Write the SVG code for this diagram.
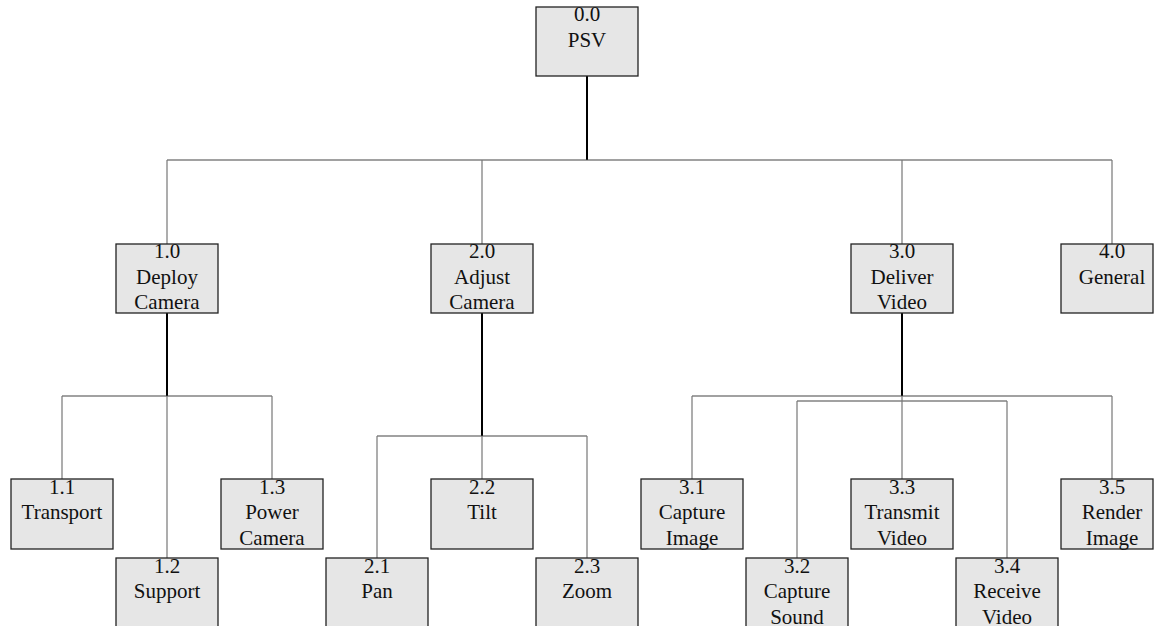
<svg xmlns="http://www.w3.org/2000/svg" width="1154" height="626" viewBox="0 0 1154 626">
<style>
.box{fill:#e6e6e6;stroke:#222;stroke-width:1.3}
.lbl{font-family:'Liberation Serif','DejaVu Serif',serif;font-size:21px;fill:#111;text-anchor:middle}
.stem{stroke:#000;stroke-width:2;fill:none}
.bus{stroke:#444;stroke-width:1.2;fill:none}
.drop{stroke:#777;stroke-width:1.2;fill:none}
</style>
<rect width="1154" height="626" fill="#fff"/>
<g id="connectors">
<path class="stem" d="M587 76V160"/>
<path class="bus" d="M167 160H1112"/>
<path class="drop" d="M167 160V244M482 160V244M902 160V244M1112 160V244"/>
<path class="stem" d="M167 313V396"/>
<path class="bus" d="M62 396H272"/>
<path class="drop" d="M62 396V479M167 396V558M272 396V479"/>
<path class="stem" d="M482 313V436"/>
<path class="bus" d="M377 436H587"/>
<path class="drop" d="M377 436V558M482 436V479M587 436V558"/>
<path class="stem" d="M902 313V396"/>
<path class="bus" d="M692 396H1112M797 401H1007"/>
<path class="drop" d="M692 396V479M902 396V479M1112 396V479M797 401V558M1007 401V558"/>
</g>
<g id="n0_0"><rect class="box" x="536" y="7" width="102" height="69"/><text class="lbl" font-family="Liberation Serif, serif"><tspan x="587" y="21">0.0</tspan><tspan x="587" y="47">PSV</tspan></text></g>
<g id="n1_0"><rect class="box" x="116" y="244" width="102" height="69"/><text class="lbl" font-family="Liberation Serif, serif"><tspan x="167" y="258">1.0</tspan><tspan x="167" y="284">Deploy</tspan><tspan x="167" y="309">Camera</tspan></text></g>
<g id="n2_0"><rect class="box" x="431" y="244" width="102" height="69"/><text class="lbl" font-family="Liberation Serif, serif"><tspan x="482" y="258">2.0</tspan><tspan x="482" y="284">Adjust</tspan><tspan x="482" y="309">Camera</tspan></text></g>
<g id="n3_0"><rect class="box" x="851" y="244" width="102" height="69"/><text class="lbl" font-family="Liberation Serif, serif"><tspan x="902" y="258">3.0</tspan><tspan x="902" y="284">Deliver</tspan><tspan x="902" y="309">Video</tspan></text></g>
<g id="n4_0"><rect class="box" x="1061" y="244" width="92" height="69"/><text class="lbl" font-family="Liberation Serif, serif"><tspan x="1112" y="258">4.0</tspan><tspan x="1112" y="284">General</tspan></text></g>
<g id="n1_1"><rect class="box" x="11" y="479" width="102" height="70"/><text class="lbl" font-family="Liberation Serif, serif"><tspan x="62" y="494">1.1</tspan><tspan x="62" y="519">Transport</tspan></text></g>
<g id="n1_2"><rect class="box" x="116" y="558" width="102" height="70"/><text class="lbl" font-family="Liberation Serif, serif"><tspan x="167" y="573">1.2</tspan><tspan x="167" y="598">Support</tspan></text></g>
<g id="n1_3"><rect class="box" x="221" y="479" width="102" height="70"/><text class="lbl" font-family="Liberation Serif, serif"><tspan x="272" y="494">1.3</tspan><tspan x="272" y="519">Power</tspan><tspan x="272" y="545">Camera</tspan></text></g>
<g id="n2_1"><rect class="box" x="326" y="558" width="102" height="70"/><text class="lbl" font-family="Liberation Serif, serif"><tspan x="377" y="573">2.1</tspan><tspan x="377" y="598">Pan</tspan></text></g>
<g id="n2_2"><rect class="box" x="431" y="479" width="102" height="70"/><text class="lbl" font-family="Liberation Serif, serif"><tspan x="482" y="494">2.2</tspan><tspan x="482" y="519">Tilt</tspan></text></g>
<g id="n2_3"><rect class="box" x="536" y="558" width="102" height="70"/><text class="lbl" font-family="Liberation Serif, serif"><tspan x="587" y="573">2.3</tspan><tspan x="587" y="598">Zoom</tspan></text></g>
<g id="n3_1"><rect class="box" x="641" y="479" width="102" height="70"/><text class="lbl" font-family="Liberation Serif, serif"><tspan x="692" y="494">3.1</tspan><tspan x="692" y="519">Capture</tspan><tspan x="692" y="545">Image</tspan></text></g>
<g id="n3_2"><rect class="box" x="746" y="558" width="102" height="70"/><text class="lbl" font-family="Liberation Serif, serif"><tspan x="797" y="573">3.2</tspan><tspan x="797" y="598">Capture</tspan><tspan x="797" y="624">Sound</tspan></text></g>
<g id="n3_3"><rect class="box" x="851" y="479" width="102" height="70"/><text class="lbl" font-family="Liberation Serif, serif"><tspan x="902" y="494">3.3</tspan><tspan x="902" y="519">Transmit</tspan><tspan x="902" y="545">Video</tspan></text></g>
<g id="n3_4"><rect class="box" x="956" y="558" width="102" height="70"/><text class="lbl" font-family="Liberation Serif, serif"><tspan x="1007" y="573">3.4</tspan><tspan x="1007" y="598">Receive</tspan><tspan x="1007" y="624">Video</tspan></text></g>
<g id="n3_5"><rect class="box" x="1061" y="479" width="92" height="70"/><text class="lbl" font-family="Liberation Serif, serif"><tspan x="1112" y="494">3.5</tspan><tspan x="1112" y="519">Render</tspan><tspan x="1112" y="545">Image</tspan></text></g>
</svg>
